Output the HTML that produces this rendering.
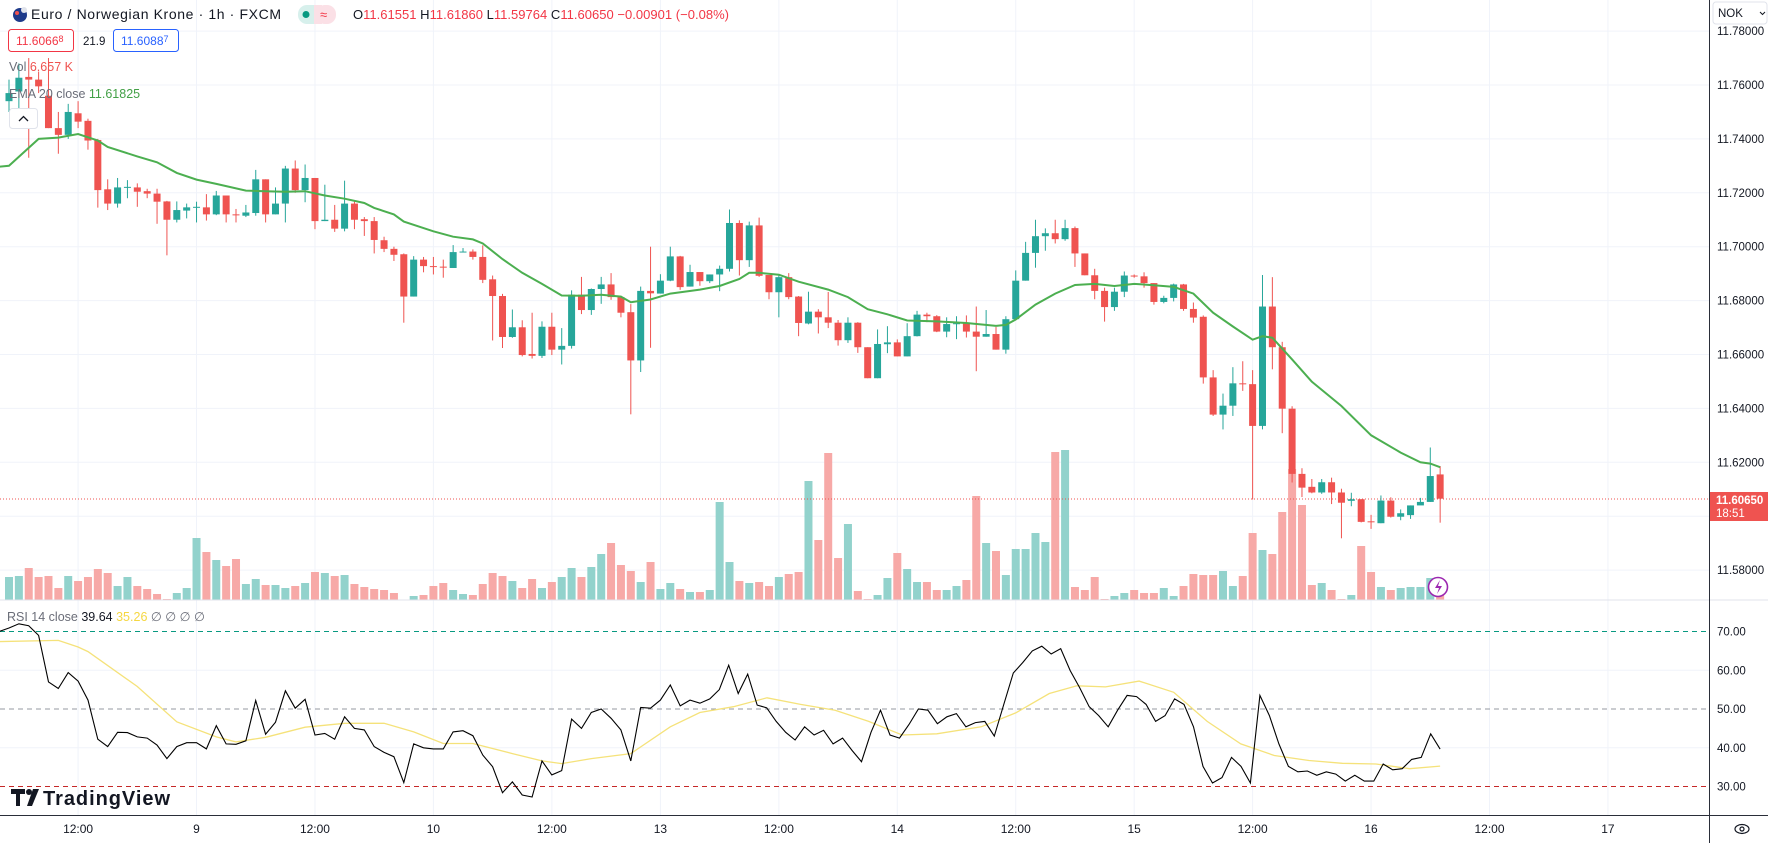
<!DOCTYPE html>
<html><head><meta charset="utf-8"><title>EURNOK 1h chart</title>
<style>
html,body{margin:0;padding:0;background:#fff;}
svg{display:block;font-family:"Liberation Sans",sans-serif;}
</style></head>
<body>
<svg id="chart" width="1768" height="843" viewBox="0 0 1768 843">
  <rect x="0" y="0" width="1768" height="843" fill="#ffffff"/>
  <g id="grid"></g>
  <g id="rsiLevels"></g>
  <g id="volume"></g>
  <line x1="0" y1="499" x2="1709" y2="499" stroke="#ef5350" stroke-width="1" stroke-dasharray="1,2"/>
  <g id="candles"></g>
  <polyline id="ema" fill="none" stroke="#4caf50" stroke-width="2"/>
  <polyline id="rsiMa" fill="none" stroke="#f5e27a" stroke-width="1.3"/>
  <polyline id="rsiLine" fill="none" stroke="#000000" stroke-width="1.1"/>

  <line x1="0" y1="600" x2="1768" y2="600" stroke="#e0e3eb" stroke-width="1"/>
  <line x1="1709.5" y1="0" x2="1709.5" y2="843" stroke="#2a2e39" stroke-width="1"/>
  <line x1="0" y1="815.5" x2="1768" y2="815.5" stroke="#2a2e39" stroke-width="1"/>
  <g id="priceAxis" font-size="11.5" fill="#131722"></g>
  <g id="rsiAxis" font-size="11.5" fill="#131722"></g>
  <g id="timeAxis" font-size="12" fill="#131722"></g>

  <g>
    <rect x="1710" y="492" width="58" height="29" fill="#ef5350"/>
    <text x="1716" y="504" font-size="11.5" fill="#fff" font-weight="bold">11.60650</text>
    <text x="1716" y="517" font-size="11.5" fill="#fff">18:51</text>
  </g>
  <g>
    <rect x="1713" y="2" width="54" height="22" rx="3" fill="#fff" stroke="#e0e3eb"/>
    <text x="1718" y="17" font-size="11.5" fill="#131722">NOK</text>
    <path d="M1760 12 l2.5 2.5 l2.5 -2.5" stroke="#131722" fill="none"/>
  </g>
  <g>
    <ellipse cx="1742" cy="829" rx="7" ry="4.5" fill="none" stroke="#131722" stroke-width="1.2"/>
    <circle cx="1742" cy="829" r="2" fill="none" stroke="#131722" stroke-width="1.2"/>
  </g>

  <!-- header -->
  <g>
    <circle cx="20" cy="15" r="7" fill="#1e3a8a"/>
    <circle cx="17" cy="13" r="2" fill="#ef5350"/>
    <circle cx="24" cy="10" r="3" fill="#e0e3eb"/>
  </g>
  <text x="31" y="19" font-size="14" fill="#131722" textLength="250">Euro / Norwegian Krone · 1h · FXCM</text>
  <g>
    <rect x="298" y="5" width="19" height="19" rx="9" fill="#d7f0ec"/>
    <rect x="316" y="5" width="20" height="19" rx="9" fill="#fbe0e6"/>
    <rect x="312" y="5" width="10" height="19" fill="#fbe0e6"/>
    <rect x="308" y="5" width="6" height="19" fill="#d7f0ec"/>
    <circle cx="306" cy="14.5" r="3.5" fill="#089981"/>
    <text x="320" y="19" font-size="13" fill="#f23645">≈</text>
  </g>
  <text x="353" y="19" font-size="13" textLength="376"><tspan fill="#131722">O</tspan><tspan fill="#f23645">11.61551 </tspan><tspan fill="#131722">H</tspan><tspan fill="#f23645">11.61860 </tspan><tspan fill="#131722">L</tspan><tspan fill="#f23645">11.59764 </tspan><tspan fill="#131722">C</tspan><tspan fill="#f23645">11.60650 −0.00901 (−0.08%)</tspan></text>

  <g>
    <rect x="8.5" y="29.5" width="65" height="22" rx="3" fill="#fff" stroke="#f23645"/>
    <text x="16" y="45" font-size="12" fill="#f23645">11.6066<tspan font-size="9" dy="-3">8</tspan></text>
  </g>
  <text x="83" y="45" font-size="11.5" fill="#131722">21.9</text>
  <g>
    <rect x="113.5" y="29.5" width="65" height="22" rx="3" fill="#fff" stroke="#2962ff"/>
    <text x="121" y="45" font-size="12" fill="#2962ff">11.6088<tspan font-size="9" dy="-3">7</tspan></text>
  </g>
  <text x="9" y="71" font-size="12.5"><tspan fill="#6a6d78">Vol </tspan><tspan fill="#ef5350">6.657 K</tspan></text>
  <text x="9" y="98" font-size="12.5"><tspan fill="#6a6d78">EMA 20 close </tspan><tspan fill="#43a047"> 11.61825</tspan></text>
  <g>
    <rect x="9.5" y="108.5" width="28" height="20" rx="3" fill="#fff" stroke="#e0e3eb"/>
    <path d="M19 121 l4.5 -4.5 l4.5 4.5" stroke="#131722" fill="none" stroke-width="1.3"/>
  </g>
  <text x="7" y="621" font-size="12.5"><tspan fill="#6a6d78">RSI 14 close </tspan><tspan fill="#131722">39.64 </tspan><tspan fill="#f5d742">35.26 </tspan><tspan fill="#6a6d78">∅ ∅ ∅ ∅</tspan></text>

  <g>
    <circle cx="1438" cy="587" r="9.5" fill="#fff" stroke="#9c27b0" stroke-width="1.6"/>
    <path d="M1440 580 l-5 8 h4 l-2 6 l5 -8 h-4 z" fill="#9c27b0"/>
  </g>
  <g>
    <path d="M11 789 h14 v5 h-5 v12 h-4 v-12 h-5 z" fill="#131722"/>
    <circle cx="29" cy="792" r="3" fill="#131722"/>
    <path d="M33 789 h6 l-7 17 h-5 z" fill="#131722"/>
    <text x="43" y="805" font-size="20" font-weight="bold" fill="#131722" textLength="127">TradingView</text>
  </g>
</svg>
<script>
// ---- data ----
const opens=[11.754,11.7576,11.763,11.762,11.756,11.744,11.7415,11.7495,11.7467,11.7396,
11.7213,11.716,11.722,11.722,11.7206,11.7197,11.7168,11.710,11.7134,11.7146,
11.7146,11.712,11.719,11.712,11.7115,11.7125,11.725,11.712,11.716,11.729,
11.721,11.7255,11.7095,11.710,11.7067,11.716,11.7102,11.7095,11.7024,11.6992,
11.6972,11.6815,11.6952,11.6928,11.6926,11.6921,11.698,11.6982,11.6962,11.6879,
11.6817,11.6665,11.6701,11.6602,11.6595,11.6703,11.6618,11.6632,11.6822,11.6765,
11.6843,11.686,11.6813,11.6757,11.6578,11.6836,11.6826,11.6874,11.6964,11.6852,
11.6906,11.6872,11.6897,11.6918,11.7088,11.695,11.7079,11.6895,11.6831,11.6887,
11.6815,11.6715,11.6759,11.6738,11.6718,11.6653,11.6718,11.6627,11.6512,11.6638,
11.6645,11.6593,11.6668,11.6748,11.6742,11.6685,11.6713,11.6716,11.6685,11.6666,
11.6676,11.6618,11.6731,11.6874,11.6977,11.7039,11.705,11.7028,11.7069,11.6975,
11.6894,11.6836,11.6776,11.6833,11.6893,11.689,11.6865,11.6795,11.681,11.686,
11.6769,11.674,11.6515,11.6377,11.641,11.6493,11.649,11.6335,11.6778,11.6627,
11.6399,11.6157,11.6109,11.6088,11.6126,11.6088,11.6057,11.6063,11.5981,11.5974,
11.6058,11.5998,11.6004,11.6040,11.6053,11.6155];
const highs=[11.762,11.768,11.770,11.765,11.770,11.750,11.753,11.754,11.7475,11.740,
11.725,11.7255,11.7247,11.7235,11.7215,11.7215,11.717,11.7168,11.716,11.7167,
11.7195,11.7207,11.719,11.714,11.7155,11.7285,11.725,11.722,11.730,11.732,
11.7305,11.7255,11.723,11.7155,11.7245,11.717,11.711,11.711,11.7037,11.700,
11.6975,11.6965,11.6962,11.6962,11.6952,11.7006,11.6995,11.699,11.7005,11.6893,
11.6825,11.6767,11.6727,11.6755,11.6723,11.6755,11.6698,11.6838,11.6888,11.6845,
11.6888,11.6902,11.6818,11.6787,11.6852,11.700,11.6898,11.700,11.6966,11.6933,
11.6906,11.6897,11.693,11.7138,11.7098,11.7093,11.7108,11.6895,11.6895,11.6902,
11.6817,11.6833,11.6768,11.6832,11.6728,11.6738,11.672,11.6627,11.6693,11.6705,
11.6656,11.6716,11.6762,11.6755,11.6746,11.6738,11.6742,11.6745,11.6778,11.6765,
11.6702,11.6742,11.6912,11.7018,11.710,11.7068,11.710,11.710,11.7075,11.6975,
11.6918,11.6848,11.6848,11.6908,11.6897,11.6905,11.6865,11.6818,11.6863,11.6862,
11.6793,11.6745,11.6542,11.6455,11.6553,11.6575,11.6542,11.6895,11.6887,11.6647,
11.6408,11.6178,11.6138,11.6138,11.6143,11.6102,11.6087,11.6063,11.6005,11.6077,
11.607,11.6025,11.604,11.6068,11.6255,11.6186];
const lows=[11.750,11.745,11.733,11.757,11.744,11.7345,11.740,11.744,11.736,11.7145,
11.7136,11.7145,11.718,11.7148,11.718,11.7085,11.6968,11.709,11.7105,11.709,
11.7097,11.7117,11.709,11.709,11.711,11.7115,11.709,11.712,11.709,11.72,
11.7165,11.7065,11.7095,11.7055,11.7057,11.7065,11.704,11.6975,11.698,11.6947,
11.6718,11.6815,11.6905,11.6897,11.6885,11.6921,11.698,11.6952,11.6865,11.6652,
11.6624,11.6662,11.6593,11.6585,11.6587,11.6598,11.6563,11.6622,11.675,11.6747,
11.6788,11.6803,11.6738,11.6378,11.6535,11.6625,11.6826,11.6872,11.684,11.6852,
11.6855,11.6865,11.6835,11.6908,11.6893,11.6925,11.6888,11.6805,11.6738,11.6805,
11.6668,11.6712,11.6678,11.6698,11.6633,11.6643,11.6606,11.6512,11.6512,11.6605,
11.6593,11.6593,11.6667,11.672,11.6683,11.6664,11.6657,11.6663,11.6538,11.6666,
11.6618,11.6603,11.6731,11.6874,11.6922,11.6985,11.7012,11.7022,11.6925,11.6894,
11.6805,11.6722,11.6762,11.6813,11.6885,11.6848,11.6785,11.679,11.6797,11.6762,
11.6718,11.6492,11.6372,11.6322,11.6372,11.6465,11.6062,11.6322,11.6545,11.6308,
11.6125,11.6071,11.6085,11.6083,11.6045,11.5918,11.6037,11.5977,11.5953,11.5974,
11.5995,11.5985,11.599,11.6042,11.6053,11.5976];
const closes=[11.757,11.7627,11.762,11.7595,11.744,11.7415,11.750,11.7464,11.7394,11.721,
11.716,11.722,11.7222,11.7204,11.7197,11.7167,11.710,11.7136,11.7146,11.7148,
11.712,11.719,11.712,11.7117,11.7127,11.725,11.712,11.716,11.729,11.721,
11.7255,11.7095,11.710,11.7067,11.716,11.710,11.7095,11.7025,11.6992,11.697,
11.6815,11.6952,11.6928,11.6925,11.6924,11.698,11.6982,11.6962,11.6877,11.6817,
11.6665,11.6701,11.6598,11.6595,11.6703,11.6618,11.6632,11.6822,11.6765,11.6843,
11.686,11.6813,11.6755,11.6578,11.6836,11.6827,11.6874,11.6964,11.685,11.6906,
11.6872,11.6897,11.6918,11.7088,11.695,11.7079,11.6892,11.6831,11.6887,11.6813,
11.6717,11.6759,11.6738,11.6718,11.6653,11.6718,11.6627,11.6512,11.6639,11.6645,
11.6593,11.6668,11.6748,11.6742,11.6685,11.6713,11.6716,11.6685,11.6666,11.6676,
11.6618,11.6731,11.6874,11.6977,11.7039,11.705,11.7028,11.7069,11.6975,11.6894,
11.6836,11.6776,11.6833,11.6893,11.689,11.6865,11.6795,11.681,11.686,11.6769,
11.6737,11.6515,11.6377,11.641,11.6493,11.649,11.6335,11.6778,11.6627,11.6399,
11.6157,11.6106,11.6088,11.6126,11.6088,11.605,11.6063,11.5979,11.5979,11.6058,
11.5998,11.6011,11.604,11.6053,11.6149,11.6065];
const volumes=[23,24,32,23,24,12,24,19,23,31,
27,14,23,14,11,6,1,7,12,62,
48,40,34,41,16,21,15,15,12,14,
17,28,27,24,25,16,13,11,10,7,
0.5,4,5,14,17,10,6,5,16,27,
24,19,12,21,12,18,23,32,23,33,
46,57,35,29,18,38,11,17,11,8,
8,10,98,38,19,17,18,14,23,26,
28,119,60,147,42,76,9,1,5,22,
47,31,18,18,10,10,14,20,104,57,
49,25,51,51,67,58,148,150,13,10,
23,1,4,7,10,7,7,12,4,14,
26,25,25,29,14,24,67,50,46,88,
131,95,15,17,10,1,5,54,28,13,
10,12,13,13,22,7];
// EMA 20 samples: [candle number (1-based), value]
const emaIdx=[0,1,4,6,8,10,11,14,16,18,20,22,25,27,29,31,33,35,37,38,40,41,44,46,48,49,51,53,55,57,59,61,63,64,66,68,71,73,75,76,77,79,81,84,86,88,90,92,95,98,101,102,103,105,107,109,111,113,115,117,119,121,123,125,127,128,129,131,133,136,139,142,144,145,146];
const emaVal=[11.7297,11.730,11.740,11.7405,11.7418,11.7394,11.737,11.7335,11.7313,11.7274,11.7249,11.7233,11.7208,11.7206,11.7204,11.7206,11.719,11.7178,11.7162,11.7144,11.712,11.7093,11.7057,11.7037,11.7027,11.7012,11.6954,11.6903,11.6862,11.6819,11.6818,11.6822,11.6815,11.6794,11.6804,11.6826,11.6841,11.6854,11.688,11.6903,11.6903,11.6896,11.687,11.6841,11.6813,11.6768,11.6749,11.6726,11.6723,11.6717,11.6706,11.671,11.673,11.6785,11.6826,11.6858,11.6862,11.6854,11.6862,11.6857,11.6851,11.6826,11.6755,11.6704,11.6655,11.6668,11.6662,11.6582,11.6499,11.6409,11.630,11.6236,11.620,11.6195,11.6182];
// RSI 14 per candle (candles 1..71)
const rsiFirst=[70.9,72,71.5,69,57,55.3,59.4,57.2,52.3,42.2,
40.3,44,43.9,42.8,42.5,40.7,37.2,40.3,41.3,41.3,
39.7,45.7,41,40.9,41.8,52.2,43.5,46.6,54.7,50.2,
52.5,43.3,43.7,42.2,48,45,44.6,40.3,38.8,37.7,
31,41,40,39.7,39.7,44.1,44.4,43.1,38.1,35.1,
28.4,31.2,27.8,27.3,36.6,33,34.1,47.4,45,49.1,
50,47.6,44.6,36.6,50.4,50.2,52.3,56.2,50.8,52.3,51.5];
// RSI 14 samples spread across candles 72..146
const rsiSecond=[52.6,55,61.3,54,59,51,50.3,46.8,44,42,
45.4,43.3,44.5,41,42.5,39.3,36.4,44,49.7,43.3,
42.5,46,50,49.7,46.2,48,48.8,45.4,46.5,46.8,
43,51.2,59.3,62,65,66.2,64.2,65.6,59.9,55.5,
50.6,48.3,45.4,49.7,53.5,53.2,51.2,46.8,48.3,52.6,
51.2,45.4,35.2,30.9,32.3,37.5,35.2,30.9,53.5,48.3,
41,35.2,33.8,34,32.9,33.8,33.2,31.4,32.9,31.4,
31.4,35.8,34.3,34.6,37,37.5,43.6,39.64];
// RSI MA samples: [candle number, value]
const rsiMaIdx=[0,6,8,9,14,18,22,24,27,31,35,39,42,45,48,52,55,57,60,64,68,71,74.4,77.8,81.2,84.7,88.1,91.5,95,99.5,103,106.4,109.2,112.1,115.5,119,122.4,125.8,129.2,132.7,136.1,139.5,142.9,146];
const rsiMaVal=[67.4,67.7,66,64.8,55.8,46.7,42.8,41.5,42.7,45.3,46.3,46.3,44.1,41.1,41.1,38.5,36.6,35.9,37.2,38.5,45.4,49.1,50.6,52.9,51.2,49.7,46.8,43.3,43.6,45.4,49,54,56,55.7,57.2,54.3,46.8,41,38,36.7,36,35.8,34.6,35.26];
const priceTicks=[11.78,11.76,11.74,11.72,11.70,11.68,11.66,11.64,11.62,11.58];
const priceGrid=[11.78,11.76,11.74,11.72,11.70,11.68,11.66,11.64,11.62,11.60,11.58];
const rsiTicks=[70,60,50,40,30];
const timeIdx=[7,19,31,43,55,66,78,90,102,114,126,138,150,162];
const timeLabels=["12:00","9","12:00","10","12:00","13","12:00","14","12:00","15","12:00","16","12:00","17"];

// ---- scales ----
const NS="http://www.w3.org/2000/svg";
const xOf=i=>9+i*9.87;               // 0-based candle index
const yP=p=>85+(11.76-p)*2695;
const yV=v=>600-v*1.0;
const yR=v=>709-(v-50)*3.875;
function mk(tag,attrs,parent){const e=document.createElementNS(NS,tag);for(const k in attrs)e.setAttribute(k,attrs[k]);parent.appendChild(e);return e;}

const grid=document.getElementById('grid');
timeIdx.forEach(i=>{
  const l=mk('line',{x1:xOf(i),x2:xOf(i),y1:0,y2:815,stroke:'#f0f3fa','stroke-width':1},grid);
  
  
});
priceGrid.forEach(p=>{
  const l=mk('line',{x1:0,x2:1709,y1:yP(p),y2:yP(p),stroke:'#f0f3fa','stroke-width':1},grid);
  
  
});
[60,40].forEach(v=>{
  const l=mk('line',{x1:0,x2:1709,y1:yR(v),y2:yR(v),stroke:'#f0f3fa','stroke-width':1},grid);
  
  
});
const lv=document.getElementById('rsiLevels');
[[70,'#089981'],[50,'#9598a1'],[30,'#c62828']].forEach(([v,c])=>{
  const l=mk('line',{x1:0,x2:1709,y1:yR(v),y2:yR(v),stroke:c,'stroke-width':1,'stroke-dasharray':'5,4'},lv);
  
  
});

const vg=document.getElementById('volume');
const cg=document.getElementById('candles');
for(let i=0;i<opens.length;i++){
  const up=closes[i]>=opens[i];
  const x=xOf(i);
  const vb=mk('rect',{x:x-4,y:yV(volumes[i]),width:8,height:600-yV(volumes[i]),fill:up?'#92d2cc':'#f7a9a7'},vg);
  
  
  const col=up?'#26a69a':'#ef5350';
  const w=mk('line',{x1:x,x2:x,y1:yP(highs[i]),y2:yP(lows[i]),stroke:col,'stroke-width':1},cg);
  
  
  const top=yP(Math.max(opens[i],closes[i])),bot=yP(Math.min(opens[i],closes[i]));
  const b=mk('rect',{x:x-3.5,y:top,width:7,height:Math.max(1,bot-top),fill:col},cg);
  
  
}
document.getElementById('ema').setAttribute('points',emaIdx.map((n,k)=>xOf(n-1).toFixed(1)+','+yP(emaVal[k]).toFixed(1)).join(' '));
const rsiPts=[[xOf(-1),yR(70)]];
rsiFirst.forEach((v,k)=>rsiPts.push([xOf(k),yR(v)]));
rsiSecond.forEach((v,k)=>rsiPts.push([xOf(71+k*74/(rsiSecond.length-1)),yR(v)]));
document.getElementById('rsiLine').setAttribute('points',rsiPts.map(p=>p[0].toFixed(1)+','+p[1].toFixed(1)).join(' '));
document.getElementById('rsiMa').setAttribute('points',rsiMaIdx.map((n,k)=>xOf(n-1).toFixed(1)+','+yR(rsiMaVal[k]).toFixed(1)).join(' '));

const pa=document.getElementById('priceAxis');
priceTicks.forEach(p=>{
  const t=mk('text',{x:1717,y:yP(p)+4},pa);t.textContent=p.toFixed(5);
  
  
});
const ra=document.getElementById('rsiAxis');
rsiTicks.forEach(v=>{
  const t=mk('text',{x:1717,y:yR(v)+4},ra);t.textContent=v.toFixed(2);
  
  
});
const ta=document.getElementById('timeAxis');
timeIdx.forEach((i,k)=>{
  const t=mk('text',{x:xOf(i),y:833,'text-anchor':'middle'},ta);t.textContent=timeLabels[k];
  
  
});
</script>
</body></html>
